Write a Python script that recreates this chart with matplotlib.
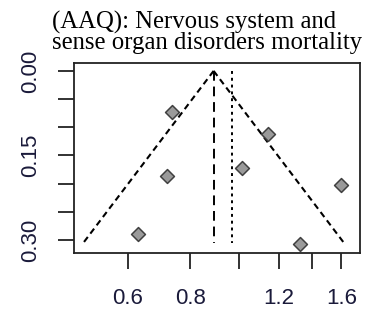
import numpy as np
import matplotlib
matplotlib.use("Agg")
import matplotlib.pyplot as plt

# effect sizes (ratio scale) and their standard errors
ratio = [0.734, 1.141, 1.015, 0.720, 1.600, 0.629, 1.323]
se = [0.073, 0.112, 0.172, 0.186, 0.202, 0.290, 0.307]

pooled = 0.89      # summary estimate
adjusted = 0.97    # second reference line
se_max = 0.305

xticks = [0.6, 0.8, 1.0, 1.2, 1.4, 1.6]
xlabels = ["0.6", "0.8", "", "1.2", "", "1.6"]
yticks = [0.00, 0.05, 0.10, 0.15, 0.20, 0.25, 0.30]
ylabels = ["0.00", "", "", "0.15", "", "", "0.30"]

fig = plt.figure(figsize=(3.66, 3.27), dpi=100)
ax = fig.add_axes([0.2022, 0.2263, 0.7814, 0.581])

# funnel: pooled estimate +/- 1.96*se on the log scale
s = np.array([0.0, se_max])
ax.plot(pooled * np.exp(-1.96 * s), s, color="black", lw=1.5, ls=(0, (3, 2)))
ax.plot(pooled * np.exp(1.96 * s), s, color="black", lw=1.5, ls=(0, (3, 2)))
ax.plot([pooled, pooled], [0, se_max], color="black", lw=1.4, ls=(0, (5, 3)))
ax.plot([adjusted, adjusted], [0, se_max], color="black", lw=1.4, ls=(0, (1.5, 2)))

ax.scatter(ratio, se, marker="D", s=50, facecolor="#9a9a9a", edgecolor="#404040", lw=1.1, zorder=3)

ax.set_xscale("log")
ax.set_xlim(0.469, 1.742)
ax.set_ylim(0.323, -0.014)
ax.set_xticks(xticks)
ax.set_xticklabels(xlabels)
ax.xaxis.set_minor_locator(matplotlib.ticker.NullLocator())
ax.set_yticks(yticks)
ax.set_yticklabels(ylabels, rotation=90, va="center")

for sp in ax.spines.values():
    sp.set_linewidth(1.3)
    sp.set_color("#222222")
ax.tick_params(length=11.5, width=1.3, color="#222222", labelsize=16,
               labelcolor="#1a1a3a")
ax.tick_params(axis="x", pad=14)
ax.tick_params(axis="y", pad=12)
for lab in ax.get_xticklabels() + ax.get_yticklabels():
    lab.set_family("Liberation Sans")

fig.text(0.142, 0.835, "(AAQ): Nervous system and\nsense organ disorders mortality",
         family="Liberation Serif", fontsize=17.8, ha="left", va="bottom",
         linespacing=0.9)

fig.savefig("out.png", dpi=100)
